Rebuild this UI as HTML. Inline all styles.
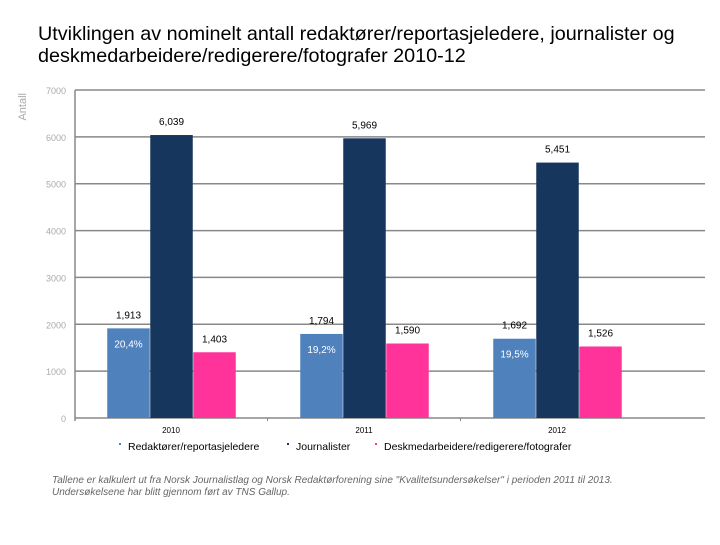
<!DOCTYPE html>
<html><head><meta charset="utf-8"><style>
body{margin:0;background:#fff;width:720px;height:540px;overflow:hidden;font-family:"Liberation Sans",sans-serif;}
</style></head><body>
<svg width="720" height="540" id="c">
<text x="38" y="40" font-size="19.8" fill="#000">Utviklingen av nominelt antall redaktører/reportasjeledere, journalister og</text>
<text x="38" y="62" font-size="19.8" fill="#000">deskmedarbeidere/redigerere/fotografer 2010-12</text>
<text transform="translate(26,93) rotate(-90)" font-size="11" fill="#aaa" text-anchor="end">Antall</text>
<text x="52" y="483" font-size="10" font-style="italic" fill="#666">Tallene er  kalkulert  ut fra Norsk Journalistlag og Norsk Redaktørforening sine "Kvalitetsundersøkelser" i perioden 2011 til 2013.</text>
<text x="52" y="495" font-size="10" font-style="italic" fill="#666">Undersøkelsene har blitt gjennom ført av TNS Gallup.</text>
<g id="plot"></g>
</svg>
<script>
const categories=["2010","2011","2012"];
const redaktorer=[1913,1794,1692];
const journalister=[6039,5969,5451];
const desk=[1403,1590,1526];
const pctLabels=["20,4%","19,2%","19,5%"];
const yTicks=[0,1000,2000,3000,4000,5000,6000,7000];
const seriesNames=["Redaktører/reportasjeledere","Journalister","Deskmedarbeidere/redigerere/fotografer"];
const NS="http://www.w3.org/2000/svg";
const g=document.getElementById('plot');
const x0=75,x1=705,yB=418,yT=90,yMax=7000;
const y=v=>yB-(v/yMax)*(yB-yT);
const gw=193,bw=42.5;
const gx=i=>171+i*gw;
function el(t,a,txt){const e=document.createElementNS(NS,t);for(const k in a)e.setAttribute(k,a[k]);if(txt!==undefined)e.textContent=txt;g.appendChild(e);return e;}
function fmt(v){return String(v).replace(/\B(?=(\d{3})+$)/,',');}
yTicks.forEach(t=>{
 const l=el('line',{x1:x0,x2:x1,y1:y(t),y2:y(t),stroke:'#888','stroke-width':1.5});
 
 
 const tx=el('text',{x:66,y:y(t)+4,'font-size':9,fill:'#aaa','text-anchor':'end'},t);
 
 
});
const ax=el('line',{x1:x0,x2:x0,y1:yT,y2:yB+3,stroke:'#888','stroke-width':1.5});


[gx(0)+gw/2,gx(1)+gw/2].forEach(xx=>{el('line',{x1:xx,x2:xx,y1:yB,y2:yB+3,stroke:'#888'});});
const series=[redaktorer,journalister,desk];
const colors=['#4f81bd','#17365d','#ff3399'];
const names=['redaktorer','journalister','desk'];
categories.forEach((c,i)=>{
 series.forEach((s,j)=>{
  const bx=gx(i)-1.5*bw+j*(bw+0.5);
  const r=el('rect',{x:bx,y:y(s[i]),width:bw,height:yB-y(s[i]),fill:colors[j]});
  
  
  const t=el('text',{x:bx+bw/2,y:y(s[i])-10,'font-size':10,fill:'#000','text-anchor':'middle'},fmt(s[i]));
  
  
 });
 const bx=gx(i)-1.5*bw;
 const p=el('text',{x:bx+bw/2,y:y(redaktorer[i])+19,'font-size':10,fill:'#fff','text-anchor':'middle'},pctLabels[i]);
 
 
 const ct=el('text',{x:gx(i),y:433,'font-size':8,fill:'#000','text-anchor':'middle'},c);
 
 
});
const lx=[120,288,376];
seriesNames.forEach((n,j)=>{
 const m=el('rect',{x:lx[j]-1,y:443,width:2,height:2,fill:colors[j]});
 
 
 const t=el('text',{x:lx[j]+8,y:450,'font-size':10.5,fill:'#000'},n);
 
 
});
</script>
</body></html>
